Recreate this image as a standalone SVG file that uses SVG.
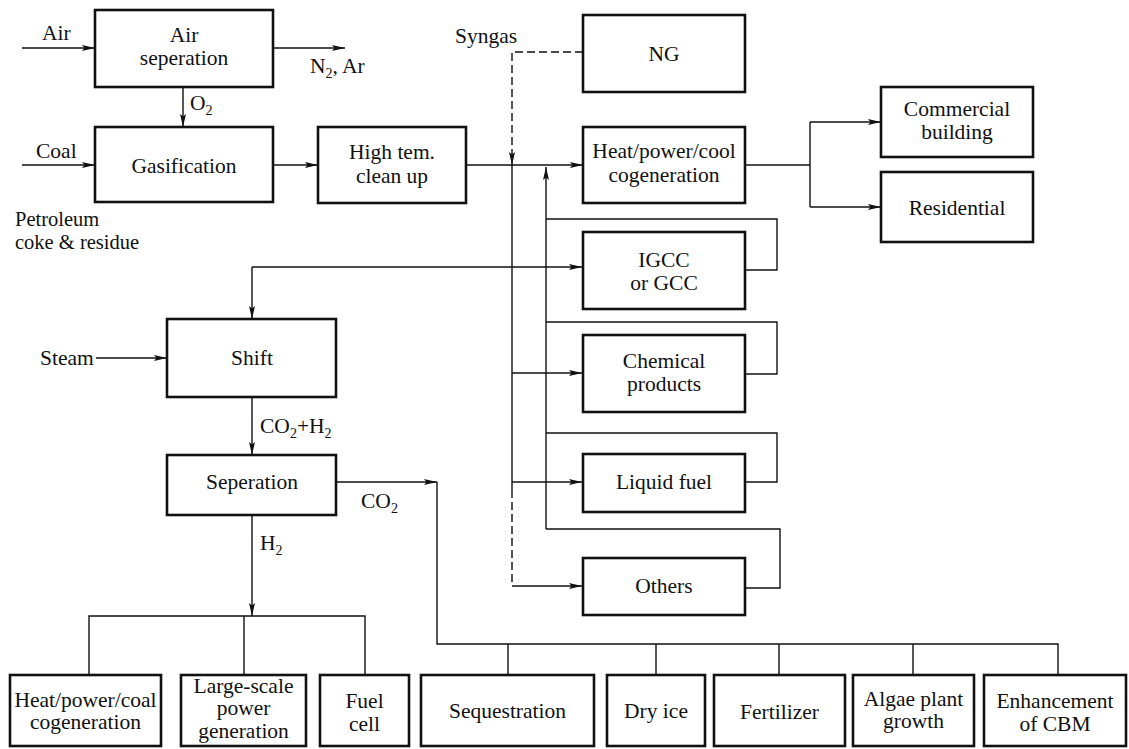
<svg xmlns="http://www.w3.org/2000/svg" width="1129" height="749" viewBox="0 0 1129 749" font-family="Times New Roman, Times, Tinos, Liberation Serif, Noto Serif, DejaVu Serif, serif">
<style>
.box{fill:#fff;stroke:#111;stroke-width:2.6}
.ln{fill:none;stroke:#111;stroke-width:1.4}
.ds{fill:none;stroke:#111;stroke-width:1.4;stroke-dasharray:8 4}
text{font-family:"Times New Roman",Times,Tinos,"Liberation Serif","Noto Serif","DejaVu Serif",serif;font-size:21.5px;fill:#111}
.c{text-anchor:middle}
.sub{font-size:14px}
.sm{font-size:20.5px}
</style>
<defs>
<marker id="ar" viewBox="0 0 13 6" refX="13" refY="3" markerWidth="13" markerHeight="6" markerUnits="userSpaceOnUse" orient="auto">
<path d="M0,0 L13,3 L0,6 L2.5,3 Z" fill="#111"/>
</marker>
</defs>
<rect width="1129" height="749" fill="#fff"/>
<g id="connectors">
<path class="ln" d="M22,48 H95" marker-end="url(#ar)"/>
<path class="ln" d="M273,48 H345" marker-end="url(#ar)"/>
<path class="ln" d="M183,87 V127" marker-end="url(#ar)"/>
<path class="ln" d="M22,165 H95" marker-end="url(#ar)"/>
<path class="ln" d="M273,165 H318" marker-end="url(#ar)"/>
<path class="ln" d="M466,165 H583" marker-end="url(#ar)"/>
<path class="ds" d="M583,52 H512 V165" marker-end="url(#ar)"/>
<path class="ln" d="M512,165 V490"/>
<path class="ds" d="M512,490 V586"/>
<path class="ln" d="M512,586 H582" marker-end="url(#ar)"/>
<path class="ln" d="M512,373 H582" marker-end="url(#ar)"/>
<path class="ln" d="M512,482 H582" marker-end="url(#ar)"/>
<path class="ln" d="M546,529 V167" marker-end="url(#ar)"/>
<path class="ln" d="M546,219 H777 V270 H745"/>
<path class="ln" d="M546,322 H777 V374 H745"/>
<path class="ln" d="M546,433 H777 V482 H745"/>
<path class="ln" d="M546,529 H780 V588 H745"/>
<path class="ln" d="M252,267 H582" marker-end="url(#ar)"/>
<path class="ln" d="M252,267 V319" marker-end="url(#ar)"/>
<path class="ln" d="M745,165 H810"/>
<path class="ln" d="M810,122 V207"/>
<path class="ln" d="M810,122 H881" marker-end="url(#ar)"/>
<path class="ln" d="M810,207 H881" marker-end="url(#ar)"/>
<path class="ln" d="M96,358 H167" marker-end="url(#ar)"/>
<path class="ln" d="M252,397 V455" marker-end="url(#ar)"/>
<path class="ln" d="M336,482 H437" marker-end="url(#ar)"/>
<path class="ln" d="M437,482 V644 H1058 V675"/>
<path class="ln" d="M508,644 V675 M656,644 V675 M779,644 V675 M913,644 V675"/>
<path class="ln" d="M252,515 V616" marker-end="url(#ar)"/>
<path class="ln" d="M89,675 V616 H365 V675 M244,616 V675"/>
</g>
<g id="labels">
<text x="42" y="40">Air</text>
<text x="36" y="158">Coal</text>
<text class="sm" x="15" y="226">Petroleum</text>
<text class="sm" x="15" y="249">coke &amp; residue</text>
<text x="190" y="110">O<tspan class="sub" dy="5">2</tspan></text>
<text x="310" y="73">N<tspan class="sub" dy="5">2</tspan><tspan dy="-5">, Ar</tspan></text>
<text x="455" y="43">Syngas</text>
<text x="40" y="365">Steam</text>
<text x="260" y="433">CO<tspan class="sub" dy="5">2</tspan><tspan dy="-5">+H</tspan><tspan class="sub" dy="5">2</tspan></text>
<text x="361" y="508">CO<tspan class="sub" dy="5">2</tspan></text>
<text x="260" y="550">H<tspan class="sub" dy="5">2</tspan></text>
</g>
<g id="air-sep"><rect class="box" x="95" y="10" width="178" height="77"/><text class="c" x="184" y="42">Air</text><text class="c" x="184" y="65">seperation</text></g>
<g id="gasification"><rect class="box" x="95" y="127" width="178" height="75"/><text class="c" x="184" y="173">Gasification</text></g>
<g id="cleanup"><rect class="box" x="318" y="127" width="148" height="76"/><text class="c" x="392" y="159">High tem.</text><text class="c" x="392" y="183">clean up</text></g>
<g id="ng"><rect class="box" x="583" y="15" width="162" height="77"/><text class="c" x="664" y="61">NG</text></g>
<g id="hpc"><rect class="box" x="583" y="127" width="162" height="76"/><text class="c" x="664" y="158">Heat/power/cool</text><text class="c" x="664" y="182">cogeneration</text></g>
<g id="commercial"><rect class="box" x="881" y="87" width="152" height="70"/><text class="c" x="957" y="116">Commercial</text><text class="c" x="957" y="139">building</text></g>
<g id="residential"><rect class="box" x="881" y="172" width="152" height="70"/><text class="c" x="957" y="215">Residential</text></g>
<g id="igcc"><rect class="box" x="583" y="232" width="162" height="77"/><text class="c" x="664" y="267">IGCC</text><text class="c" x="664" y="290">or GCC</text></g>
<g id="chemical"><rect class="box" x="583" y="335" width="162" height="77"/><text class="c" x="664" y="368">Chemical</text><text class="c" x="664" y="391">products</text></g>
<g id="liquid"><rect class="box" x="583" y="454" width="162" height="58"/><text class="c" x="664" y="489">Liquid fuel</text></g>
<g id="others"><rect class="box" x="583" y="558" width="162" height="57"/><text class="c" x="664" y="593">Others</text></g>
<g id="shift"><rect class="box" x="167" y="319" width="169" height="78"/><text class="c" x="252" y="365">Shift</text></g>
<g id="seperation"><rect class="box" x="167" y="455" width="169" height="60"/><text class="c" x="252" y="489">Seperation</text></g>
<g id="hpcoal"><rect class="box" x="10" y="675" width="151" height="71"/><text class="c" x="85.5" y="707">Heat/power/coal</text><text class="c" x="85.5" y="729">cogeneration</text></g>
<g id="largescale"><rect class="box" x="181" y="675" width="125" height="71"/><text class="c" x="243.5" y="693">Large-scale</text><text class="c" x="243.5" y="715">power</text><text class="c" x="243.5" y="738">generation</text></g>
<g id="fuelcell"><rect class="box" x="320" y="675" width="89" height="71"/><text class="c" x="364.5" y="708">Fuel</text><text class="c" x="364.5" y="731">cell</text></g>
<g id="sequestration"><rect class="box" x="421" y="675" width="173" height="71"/><text class="c" x="507.5" y="718">Sequestration</text></g>
<g id="dryice"><rect class="box" x="607" y="675" width="98" height="71"/><text class="c" x="656" y="718">Dry ice</text></g>
<g id="fertilizer"><rect class="box" x="714" y="675" width="131" height="71"/><text class="c" x="779.5" y="719">Fertilizer</text></g>
<g id="algae"><rect class="box" x="853" y="675" width="121" height="71"/><text class="c" x="913.5" y="706">Algae plant</text><text class="c" x="913.5" y="728">growth</text></g>
<g id="cbm"><rect class="box" x="984" y="675" width="142" height="71"/><text class="c" x="1055" y="708">Enhancement</text><text class="c" x="1055" y="731">of CBM</text></g>
</svg>
